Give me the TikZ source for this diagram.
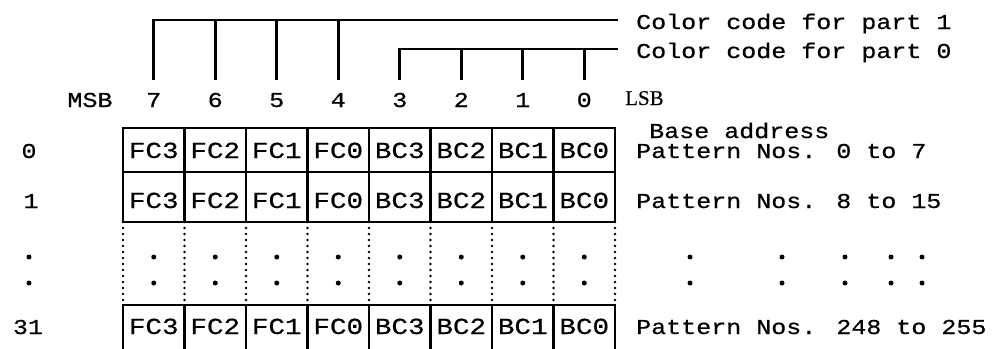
\documentclass[tikz,border=0pt]{standalone}
\usepackage{fontspec}
\newfontfamily\tw[FakeStretch=1.18,FakeBold=0.6]{Liberation Mono}
\newfontfamily\tc[FakeStretch=1.2,FakeBold=0.6]{Liberation Mono}
\newfontfamily\lsbfont[FakeBold=0.4]{Liberation Serif}
\begin{document}
\begin{tikzpicture}[x=1pt,y=-1pt,
  txt/.style={font=\fontsize{21.2}{24}\selectfont\tw, inner sep=0pt},
  celltxt/.style={font=\fontsize{23}{26}\selectfont\tc, inner sep=0pt, anchor=base},
  gridline/.style={line width=2.8pt, line cap=rect},
  dotline/.style={line width=2.6pt, dash pattern=on 0pt off 6pt, line cap=round},
  bracket/.style={line width=2.8pt},
  dot/.style={circle, fill, inner sep=0pt, minimum size=5pt}]
\useasboundingbox (0,0) rectangle (993,348);

% grid
\foreach \y in {128,172,222,305}
  \draw[gridline] (123,\y) -- (615,\y);
\foreach \i in {0,...,8}{
  \draw[gridline] ({123+61.5*\i},128) -- ({123+61.5*\i},222);
  \draw[dotline] ({123+61.5*\i},222) -- ({123+61.5*\i},305);
  \draw[gridline] ({123+61.5*\i},305) -- ({123+61.5*\i},350);
}

% cell texts and dots
\foreach \t [count=\i from 0] in {FC3,FC2,FC1,FC0,BC3,BC2,BC1,BC0}{
  \node[celltxt] (ca\i) at ({153.75+61.5*\i},158) {\t};
  \node[celltxt] (cb\i) at ({153.75+61.5*\i},208) {\t};
  \node[celltxt] (cc\i) at ({153.75+61.5*\i},334) {\t};
  \node[dot] (cd\i) at ({153.75+61.5*\i},257) {};
  \node[dot] (ce\i) at ({153.75+61.5*\i},283) {};
}

% bit numbers
\foreach \b [count=\i from 0] in {7,6,5,4,3,2,1,0}{
  \node[txt, anchor=base] (b\b) at ({153.75+61.5*\i},107) {\b};
  \coordinate (k\b) at ({153.75+61.5*\i},80);
}
\node[txt, anchor=base] (msb) at (90,107) {MSB};
\node[anchor=base west, inner sep=0pt, font=\fontsize{21}{23}\selectfont\lsbfont] (lsb) at (625,105) {LSB};

% brackets
\coordinate (e1) at (618,20);
\coordinate (e0) at (618,49);
\draw[bracket] (k7) |- (e1);
\foreach \b in {6,5,4} \draw[bracket] (k\b) -- (k\b |- e1);
\draw[bracket] (k3) |- (e0);
\foreach \b in {2,1,0} \draw[bracket] (k\b) -- (k\b |- e0);

\node[txt, anchor=base west] (p1) at (636,29) {Color code for part 1};
\node[txt, anchor=base west] (p0) at (636,58) {Color code for part 0};

% right texts
\node[txt, anchor=base west] (base) at (649,138) {Base address};
\node[txt, anchor=base west] (pa) at (636,158) {Pattern Nos. 0 to 7};
\node[txt, anchor=base west] (pb) at (636,208) {Pattern Nos. 8 to 15};
\node[txt, anchor=base west] (pc) at (636,334) {Pattern Nos. 248 to 255};
\foreach \x [count=\j] in {690,782,845,891,922}{
  \node[dot] (ra\j) at (\x,257) {};
  \node[dot] (rb\j) at (\x,283) {};
}

% row labels
\node[txt, anchor=base] (r0) at (29,158) {0};
\node[txt, anchor=base] (r1) at (31,208) {1};
\node[txt, anchor=base] (r31) at (28,334) {31};
\node[dot] (rd1) at (29,257) {};
\node[dot] (rd2) at (29,283) {};
\end{tikzpicture}
\end{document}
